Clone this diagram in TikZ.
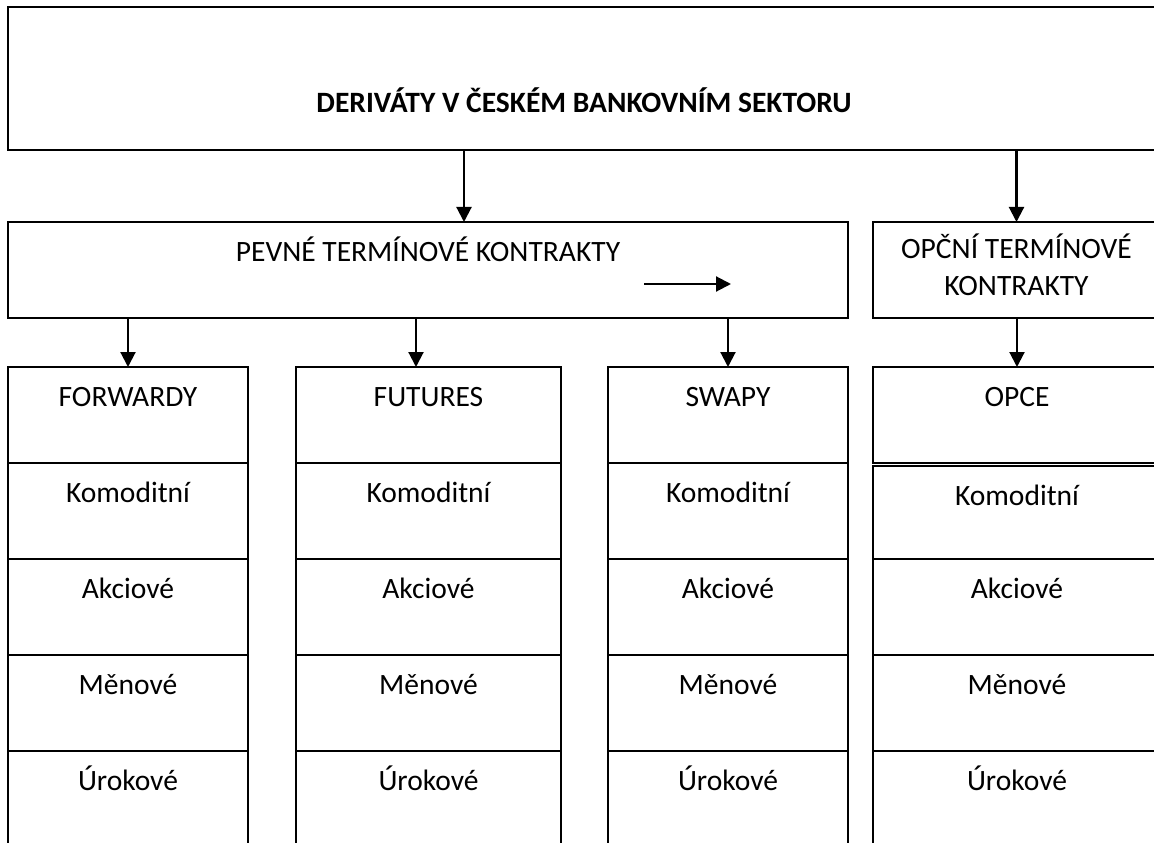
\documentclass[tikz,border=0pt]{standalone}
\usepackage{fontspec}
\setmainfont{Carlito}
\usetikzlibrary{positioning,arrows.meta}

\begin{document}
\fontsize{16.8}{21.6}\selectfont
\begin{tikzpicture}
    \tikzset{
        box/.style={draw, line width=1.1pt, inner sep=0pt, outer sep=0pt},
        cell/.style={box, text height=0.78cm, text depth=1.14cm},
        arr/.style={line width=1.2pt, -{Triangle[width=0.3cm,length=0.3cm]}},}
    \clip (0,0) rectangle (23.08,-16.86);
    % horni boxy
    \node[box, anchor=north west, minimum width=23.04cm, text height=2.12cm, text depth=0.74cm, font=\bfseries] (sektor) at (0.16,-0.14) {DERIVÁTY V ČESKÉM BANKOVNÍM SEKTORU};
    \node[box, anchor=north west, minimum width=16.8cm, text height=0.8cm, text depth=1.12cm] (pevne) at (0.16,-4.44) {PEVNÉ TERMÍNOVÉ KONTRAKTY};
    \node[box, anchor=north west, minimum width=5.74cm, text height=0.72cm, text depth=1.2cm] (opcni) at (17.46,-4.44) {\begin{tabular}[t]{@{}c@{}}OPČNÍ TERMÍNOVÉ\\KONTRAKTY\end{tabular}};
    % sloupce
    \foreach \name/\x/\w/\nadpis in {fw/0.16/4.8/FORWARDY, fut/5.92/5.3/FUTURES, swap/12.16/4.8/SWAPY}{
        \node[cell, anchor=north west, minimum width=\w cm] (\name) at (\x,-7.34) {\nadpis};
        \node[cell, minimum width=\w cm, below=0pt of \name] (\name-kom) {Komoditní};
        \node[cell, minimum width=\w cm, below=0pt of \name-kom] (\name-akc) {Akciové};
        \node[cell, minimum width=\w cm, below=0pt of \name-akc] (\name-men) {Měnové};
        \node[cell, minimum width=\w cm, below=0pt of \name-men] (\name-uro) {Úrokové};
    }
    \node[cell, anchor=north west, minimum width=5.76cm] (opce) at (17.46,-7.34) {OPCE};
    \node[cell, minimum width=5.76cm, text depth=1.08cm, below=0.06cm of opce] (opce-kom) {Komoditní};
    \node[cell, minimum width=5.76cm, below=0pt of opce-kom] (opce-akc) {Akciové};
    \node[cell, minimum width=5.76cm, below=0pt of opce-akc] (opce-men) {Měnové};
    \node[cell, minimum width=5.76cm, below=0pt of opce-men] (opce-uro) {Úrokové};
    % sipky
    \draw[arr] ([xshift=-2.4cm]sektor.south) coordinate (s1) -- (s1 |- pevne.north);
    \draw[arr] (opcni.north |- sektor.south) -- (opcni.north);
    \draw[arr] (fw.north |- pevne.south) -- (fw.north);
    \path ([xshift=-0.25cm]fut.north) coordinate (futtop);
    \draw[arr] (futtop |- pevne.south) -- (futtop);
    \draw[arr] (swap.north |- pevne.south) -- (swap.north);
    \draw[arr] (opce.north |- opcni.south) -- (opce.north);
    \coordinate (sa) at (12.88,-5.68);
    \coordinate (sb) at (14.62,-5.68);
    \draw[arr] (sa) -- (sb);
\end{tikzpicture}
\end{document}
